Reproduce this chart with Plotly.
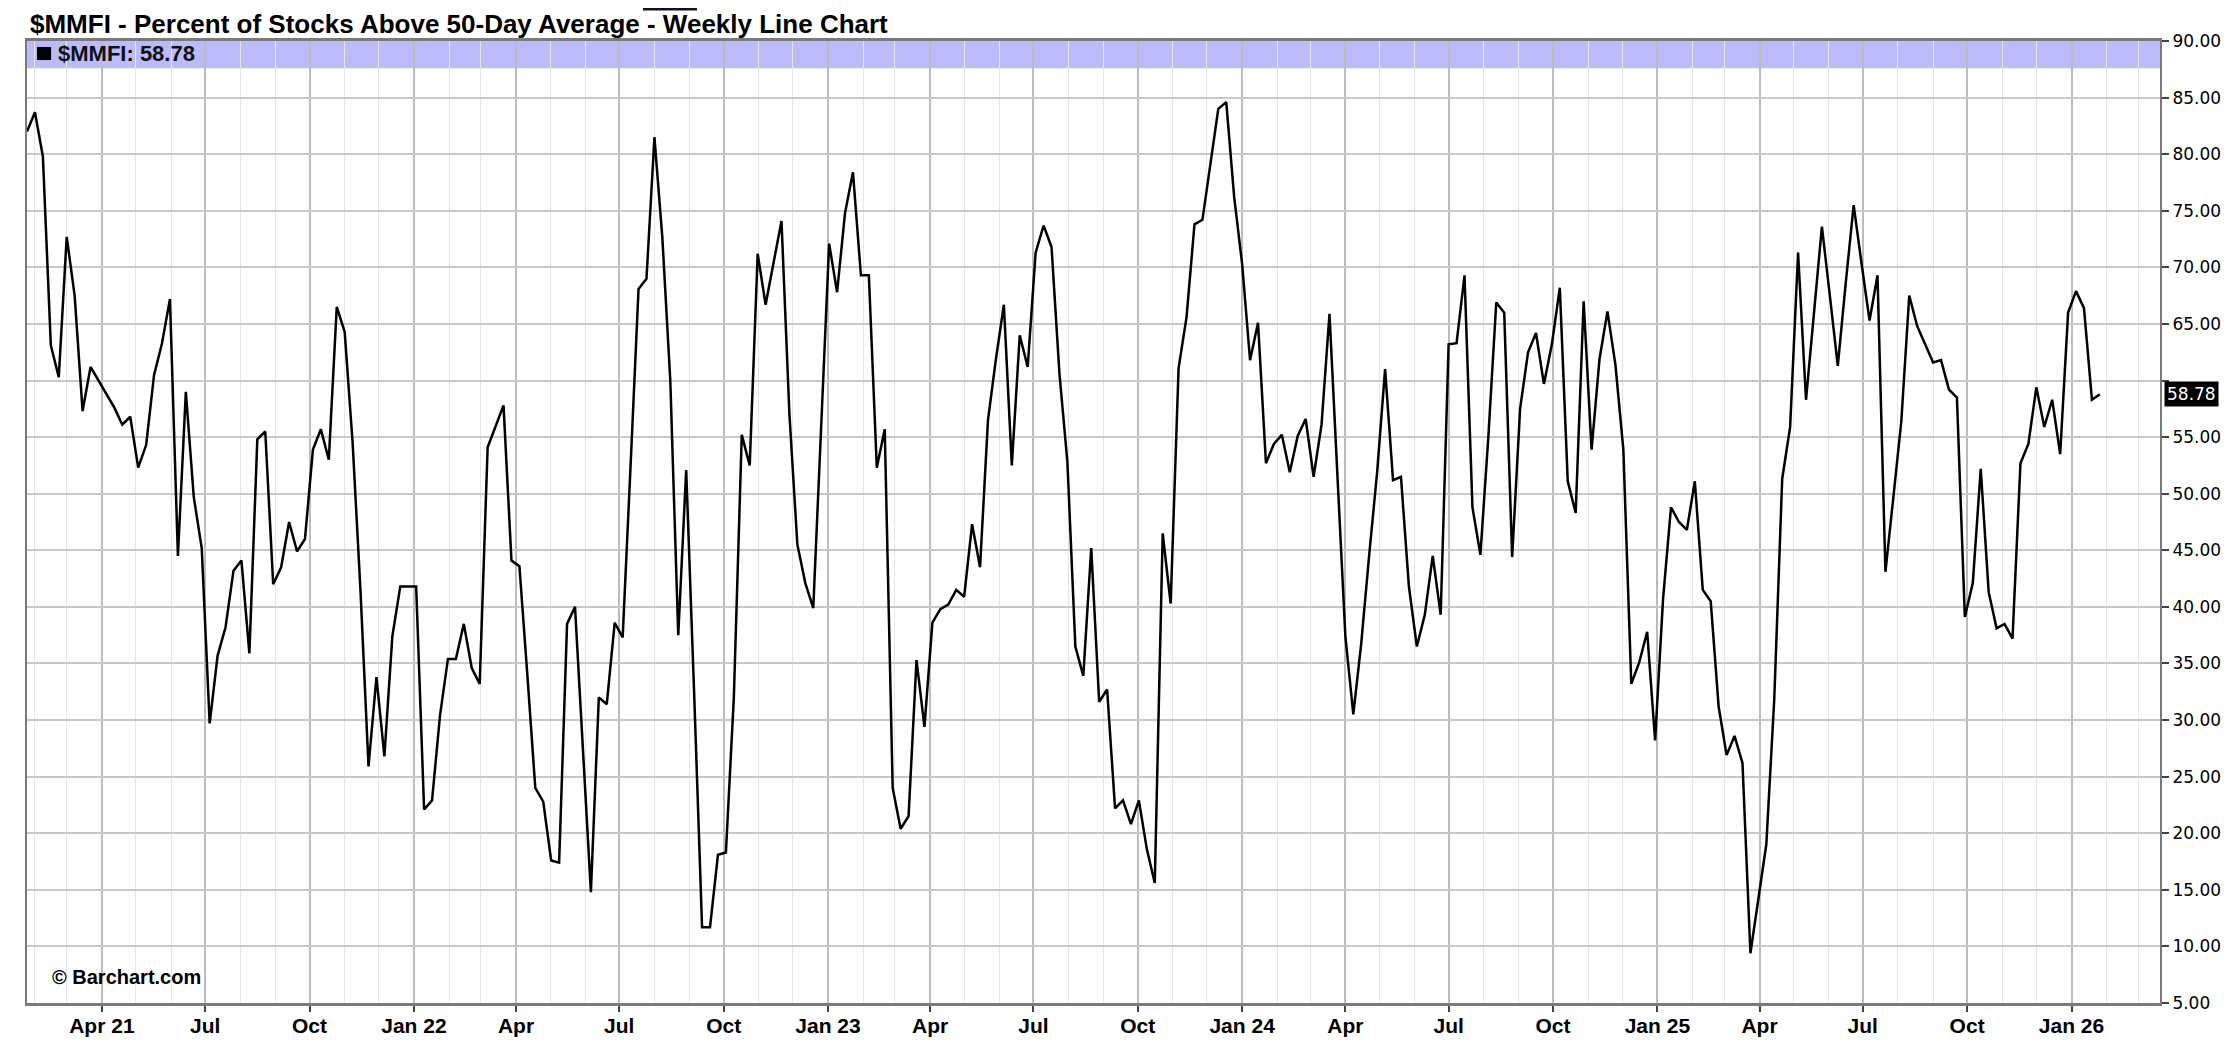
import pandas as pd
import plotly.graph_objects as go

# ---------------- data ----------------
start_date = "2021-01-25"          # first weekly bar (Mondays)
values = [
    82.0, 83.7, 79.8, 63.1, 60.3, 72.7, 67.5, 57.3, 61.2, 60.0,
    58.8, 57.6, 56.1, 56.8, 52.3, 54.3, 60.5, 63.3, 67.2, 44.5,
    59.0, 49.7, 45.2, 29.7, 35.7, 38.2, 43.2, 44.1, 35.9, 54.8,
    55.5, 42.0, 43.5, 47.5, 44.9, 46.0, 53.9, 55.7, 53.0, 66.5,
    64.3, 54.5, 41.3, 25.9, 33.8, 26.8, 37.4, 41.8, 41.8, 41.8,
    22.1, 22.9, 30.4, 35.4, 35.4, 38.5, 34.6, 33.2, 54.1, 56.0,
    57.8, 44.1, 43.6, 34.0, 24.0, 22.8, 17.6, 17.4, 38.5, 40.0,
    27.3, 14.8, 32.0, 31.4, 38.6, 37.3, 52.5, 68.1, 69.0, 81.5,
    72.6, 60.0, 37.5, 52.1, 32.4, 11.7, 11.7, 18.1, 18.3, 32.0,
    55.2, 52.5, 71.2, 66.7, 70.4, 74.1, 57.0, 45.5, 42.1, 39.9,
    56.0, 72.1, 67.8, 74.8, 78.4, 69.3, 69.3, 52.3, 55.7, 24.0,
    20.4, 21.5, 35.3, 29.4, 38.6, 39.8, 40.2, 41.5, 40.9, 47.3,
    43.5, 56.5, 61.9, 66.7, 52.5, 64.0, 61.2, 71.3, 73.7, 71.8,
    60.6, 52.8, 36.5, 33.9, 45.2, 31.6, 32.7, 22.2, 22.9, 20.8,
    22.9, 18.6, 15.6, 46.5, 40.3, 61.1, 65.6, 73.8, 74.2, 79.0,
    84.0, 84.6, 76.2, 70.3, 61.8, 65.1, 52.7, 54.4, 55.2, 51.9,
    55.1, 56.6, 51.5, 56.1, 65.9, 51.6, 37.4, 30.5, 36.8, 44.6,
    51.9, 61.0, 51.2, 51.5, 41.8, 36.5, 39.3, 44.5, 39.3, 63.2,
    63.3, 69.3, 48.8, 44.6, 55.0, 66.9, 66.0, 44.4, 57.5, 62.5,
    64.2, 59.7, 63.2, 68.2, 51.1, 48.3, 67.0, 53.9, 61.9, 66.1,
    61.4, 53.9, 33.2, 35.1, 37.8, 28.2, 40.7, 48.8, 47.5, 46.8,
    51.1, 41.5, 40.5, 31.2, 26.9, 28.6, 26.2, 9.4, 14.2, 19.0,
    31.8, 51.3, 55.9, 71.3, 58.3, 65.8, 73.6, 67.5, 61.3, 68.6,
    75.5, 70.3, 65.3, 69.3, 43.1, 49.7, 56.4, 67.5, 64.8, 63.2,
    61.6, 61.8, 59.2, 58.5, 39.1, 42.1, 52.2, 41.3, 38.1, 38.5,
    37.2, 52.7, 54.4, 59.4, 55.9, 58.3, 53.5, 66.0, 67.9, 66.4,
    58.3, 58.78,
]
dates = pd.date_range(start=start_date, periods=len(values), freq="7D")

tick_vals = [
    "2021-04-01", "2021-07-01", "2021-10-01", "2022-01-01", "2022-04-01",
    "2022-07-01", "2022-10-01", "2023-01-01", "2023-04-01", "2023-07-01",
    "2023-10-01", "2024-01-01", "2024-04-01", "2024-07-01", "2024-10-01",
    "2025-01-01", "2025-04-01", "2025-07-01", "2025-10-01", "2026-01-01",
]
tick_text = [
    "Apr 21", "Jul", "Oct", "Jan 22", "Apr", "Jul", "Oct", "Jan 23", "Apr",
    "Jul", "Oct", "Jan 24", "Apr", "Jul", "Oct", "Jan 25", "Apr", "Jul",
    "Oct", "Jan 26",
]
month_grid = pd.date_range("2021-02-01", "2026-03-01", freq="MS")

y_ticks = [5, 10, 15, 20, 25, 30, 35, 40, 45, 50, 55, 60, 65, 70, 75, 80, 85, 90]
y_tick_text = ["5.00", "10.00", "15.00", "20.00", "25.00", "30.00", "35.00",
               "40.00", "45.00", "50.00", "55.00", "", "65.00", "70.00",
               "75.00", "80.00", "85.00", "90.00"]

title_text = "$MMFI - Percent of Stocks Above 50-Day Average - Weekly Line Chart"
legend_text = "$MMFI: 58.78"
last_value = values[-1]

# ---------------- figure ----------------
SANS = "Liberation Sans, Arial, sans-serif"

fig = go.Figure()
fig.add_trace(go.Scatter(
    x=dates, y=values, mode="lines",
    line=dict(color="black", width=2.5),
    hoverinfo="x+y", showlegend=False,
))

fig.update_layout(
    width=2220, height=1047,
    margin=dict(l=19, r=68, t=33, b=52, autoexpand=False),
    paper_bgcolor="white", plot_bgcolor="white",
    showlegend=False,
    xaxis=dict(
        type="date",
        range=["2021-01-25", "2026-03-20"],
        tickmode="array", tickvals=tick_vals, ticktext=tick_text,
        ticks="outside", ticklen=6, tickwidth=2, tickcolor="#444",
        ticklabelstandoff=-4,
        tickfont=dict(family=SANS, size=21, color="black", weight="bold"),
        showgrid=True, gridcolor="#bcbcbc", gridwidth=1.5,
        minor=dict(tickmode="array", tickvals=list(month_grid),
                   showgrid=True, gridcolor="#e6e6e6", gridwidth=1.3, ticks=""),
        showline=True, linecolor="#7a7a7a", linewidth=3, mirror=True,
        zeroline=False,
    ),
    yaxis=dict(
        side="right", range=[5, 90],
        tickmode="array", tickvals=y_ticks, ticktext=y_tick_text,
        ticks="outside", ticklen=7, tickwidth=2, tickcolor="#444",
        tickfont=dict(family="DejaVu Sans", size=17, color="black"),
        showgrid=True, gridcolor="#c8c8c8", gridwidth=1.5,
        showline=True, linecolor="#7a7a7a", linewidth=2, mirror=True,
        zeroline=False,
    ),
)

# legend band
fig.add_shape(type="rect", xref="paper", yref="y", x0=0, x1=1, y0=87.6, y1=90,
              fillcolor="#bbbbfa", line=dict(width=0), layer="below")

# legend square
fig.add_shape(type="rect", xref="paper", yref="paper",
              x0=0.0047, x1=0.0113, y0=0.9802, y1=0.9938,
              fillcolor="black", line=dict(width=0), layer="above")

# small dark mark at the very top (as in reference)
fig.add_shape(type="rect", xref="paper", yref="paper",
              x0=0.2888, x1=0.3141, y0=1.0318, y1=1.0343,
              fillcolor="#101030", line=dict(width=0), layer="above")

# title
fig.add_annotation(text=title_text, xref="paper", yref="paper",
                   x=0.001, y=1.0340, xanchor="left", yanchor="top",
                   showarrow=False, borderpad=0,
                   font=dict(family=SANS, size=26, color="black", weight="bold"))

# legend text
fig.add_annotation(text=legend_text, xref="paper", yref="paper",
                   x=0.0137, y=0.9865, xanchor="left", yanchor="middle",
                   showarrow=False,
                   font=dict(family=SANS, size=22, color="#111", weight="bold"))

# watermark
fig.add_annotation(text="\u00a9 Barchart.com", xref="paper", yref="paper",
                   x=0.011, y=0.027, xanchor="left", yanchor="middle",
                   showarrow=False,
                   font=dict(family=SANS, size=20, color="black", weight="bold"))

# last value label on the axis
fig.add_annotation(text=f"{last_value:.2f}", xref="paper", yref="y",
                   x=1.0019, y=last_value, xanchor="left", yanchor="middle",
                   showarrow=False, bgcolor="black", borderpad=2,
                   font=dict(family="DejaVu Sans", size=17, color="white"))

fig.write_html("out.html")
